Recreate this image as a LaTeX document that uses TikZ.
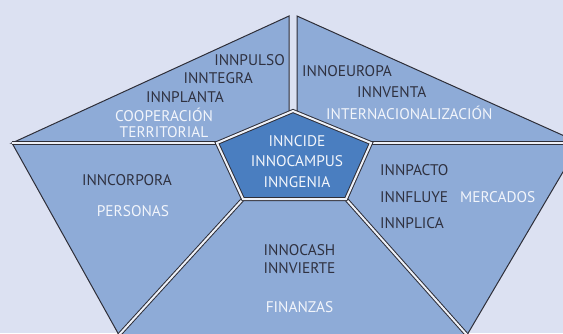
\documentclass[tikz,border=0pt]{standalone}
\usepackage{fontspec}
\setmainfont{PT Sans}
\usepackage{tikz}
\newdimen\pxunit
\setlength{\pxunit}{1pt}
\definecolor{paper}{HTML}{DCE1F2}
\definecolor{sector}{HTML}{8EABD7}
\definecolor{core}{HTML}{4A7EC0}
\definecolor{rimgray}{HTML}{2E2E38}
\definecolor{gapwhite}{HTML}{EEF1F8}
\definecolor{ink}{HTML}{2F3140}
\definecolor{pale}{HTML}{F2F5FB}

\begin{document}
\begin{tikzpicture}[x=\pxunit,y=-\pxunit]
\tikzset{region/.style={fill=sector, draw=rimgray, line width=1pt}}%
\tikzset{divider/.style={draw=rimgray, line width=1pt, double=gapwhite, double distance=2pt}}%
\tikzset{prog/.style={text=ink, inner sep=0pt, font=\fontsize{15.4}{17}\selectfont}}%
\tikzset{topic/.style={prog, text=pale}}%
\useasboundingbox (0,0) rectangle (563,333);
\fill[paper] (0,0) rectangle (563,333);
\begin{scope}
\clip (0,0) rectangle (563,333);
% outer corners
\coordinate (L) at (12,143);
\coordinate (TA) at (289,16);
\coordinate (TB) at (297,16);
\coordinate (TAf) at (289,113);
\coordinate (TBf) at (297,113);
\coordinate (R) at (580,143);
\coordinate (BL) at (119,335);
\coordinate (BR) at (467,335);
% inner pentagon
\coordinate (IT) at (293,111);
\coordinate (IL) at (217,143);
\coordinate (IR) at (371,143);
\coordinate (IBR) at (346,199);
\coordinate (IBL) at (243,199);
% sectors
\draw[region] (L) -- (TA) -- (TAf) -- (IL) -- cycle;
\draw[region] (TB) -- (R) -- (IR) -- (TBf) -- cycle;
\draw[region] (L) -- (IL) -- (IBL) -- (BL) -- cycle;
\draw[region] (IR) -- (R) -- (BR) -- (IBR) -- cycle;
\draw[region] (IBL) -- (IBR) -- (BR) -- (BL) -- cycle;
% gaps between sectors
\draw[divider] (L) -- (IL);
\draw[divider] (IR) -- (R);
\draw[divider] (IBL) -- (BL);
\draw[divider] (IBR) -- (BR);
\filldraw[divider, fill=core] (IT) -- (IR) -- (IBR) -- (IBL) -- (IL) -- cycle;
\end{scope}
% cooperacion territorial
\node[prog, anchor=base east] (innpulso) at (285,65) {INNPULSO};
\node[prog, anchor=base east] (inntegra) at (253,83) {INNTEGRA};
\node[prog, anchor=base east] (innplanta) at (224,102.7) {INNPLANTA};
\node[topic, anchor=base] (cooperacion) at (164,121.7) {COOPERACIÓN};
\node[topic, anchor=base] (territorial) at (164,137.7) {TERRITORIAL};
% internacionalizacion
\node[prog, anchor=base west] (innoeuropa) at (302,76) {INNOEUROPA};
\node[prog, anchor=base west] (innventa) at (357,97.3) {INNVENTA};
\node[topic, anchor=base west] (internacional) at (326,119) {INTERNACIONALIZACIÓN};
% centre
\node[topic, anchor=base] (inncide) at (297,146.7) {INNCIDE};
\node[topic, anchor=base] (innocampus) at (297,166.7) {INNOCAMPUS};
\node[topic, anchor=base] (inngenia) at (297,187.3) {INNGENIA};
% personas
\node[prog, anchor=base] (inncorpora) at (127,185) {INNCORPORA};
\node[topic, anchor=base] (personas) at (133,216) {PERSONAS};
% finanzas
\node[prog, anchor=base] (innocash) at (299.5,255) {INNOCASH};
\node[prog, anchor=base] (innvierte) at (299.5,273) {INNVIERTE};
\node[topic, anchor=base] (finanzas) at (299.5,312.7) {FINANZAS};
% mercados
\node[prog, anchor=base west] (innpacto) at (380,175.7) {INNPACTO};
\node[prog, anchor=base west] (innfluye) at (380,202.7) {INNFLUYE};
\node[prog, anchor=base west] (innplica) at (380,228.3) {INNPLICA};
\node[topic, anchor=base west] (mercados) at (460,202.7) {MERCADOS};
\end{tikzpicture}
\end{document}
